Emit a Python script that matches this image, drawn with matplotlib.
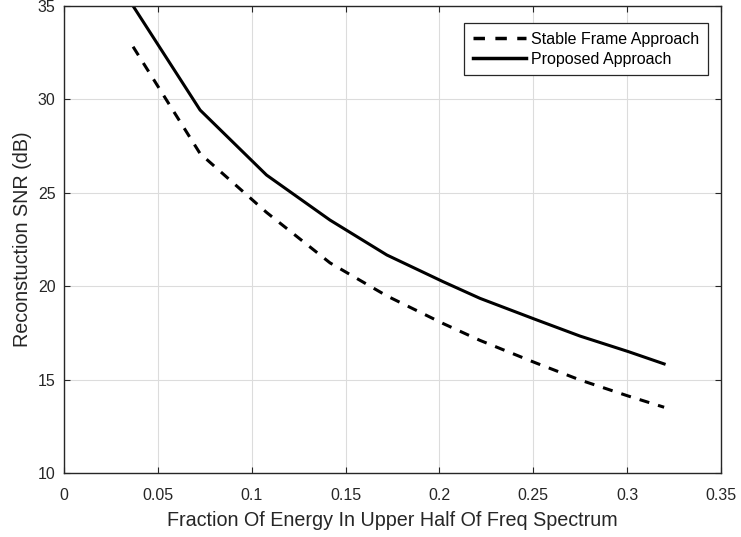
import matplotlib
matplotlib.use("Agg")
import matplotlib.pyplot as plt

plt.rcParams['font.family'] = ['Liberation Sans', 'DejaVu Sans']

# Data
x_vals = [0.0368, 0.0725, 0.1079, 0.1417, 0.172, 0.202, 0.2216, 0.2509, 0.2749, 0.3006, 0.3197]
stable_snr = [32.82, 27.1, 23.95, 21.25, 19.48, 18.0, 17.1, 15.91, 14.98, 14.12, 13.52]
proposed_snr = [35.0, 29.43, 25.95, 23.54, 21.67, 20.24, 19.35, 18.23, 17.33, 16.5, 15.84]

x_ticks = [0, 0.05, 0.1, 0.15, 0.2, 0.25, 0.3, 0.35]
x_tick_labels = ['0', '0.05', '0.1', '0.15', '0.2', '0.25', '0.3', '0.35']
y_ticks = [10, 15, 20, 25, 30, 35]

fig = plt.figure(figsize=(7.41, 5.37), dpi=100)
ax = fig.add_axes([64/741, 1-473/537, (721-64)/741, (473-6)/537])

ax.plot(x_vals, stable_snr, color='black', lw=2.2, linestyle=(0, (3.3, 3.0)),
        label='Stable Frame Approach')
ax.plot(x_vals, proposed_snr, color='black', lw=2.2, linestyle='-',
        label='Proposed Approach')

ax.set_xlim(0, 0.35)
ax.set_ylim(10, 35)
ax.set_xticks(x_ticks)
ax.set_xticklabels(x_tick_labels)
ax.set_yticks(y_ticks)

dark = '#262626'
ax.grid(True, color='#dcdcdc', lw=0.8)
ax.set_axisbelow(True)
for s in ax.spines.values():
    s.set_color(dark)
    s.set_linewidth(1.0)
ax.tick_params(direction='in', top=True, right=True, length=4, width=0.8,
               colors=dark, labelsize=11.5, labelcolor=dark)
ax.tick_params(axis='x', pad=10.5)
ax.tick_params(axis='y', pad=6)

ax.set_xlabel('Fraction Of Energy In Upper Half Of Freq Spectrum', fontsize=14.2, color=dark, labelpad=6)
ax.set_ylabel('Reconstuction SNR (dB)', fontsize=14.2, color=dark, labelpad=4)

leg = ax.legend(loc='upper right', bbox_to_anchor=(1 - 13/657, 1 - 17/467),
                fontsize=11.5, frameon=True, fancybox=False, handlelength=3.3,
                handletextpad=0.35, borderpad=0.55, labelspacing=0.3,
                borderaxespad=0)
leg.get_frame().set_edgecolor(dark)
leg.get_frame().set_linewidth(0.9)
leg.get_frame().set_alpha(1)
for line in leg.get_lines():
    line.set_linewidth(2.5)

fig.savefig('out.png', dpi=100)
